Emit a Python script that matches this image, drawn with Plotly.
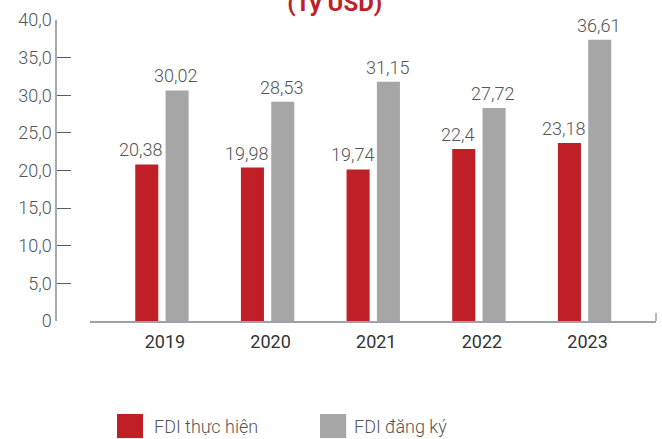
import plotly.graph_objects as go

years = ["2019", "2020", "2021", "2022", "2023"]
fdi_thuc_hien = [20.38, 19.98, 19.74, 22.4, 23.18]
fdi_dang_ky = [30.02, 28.53, 31.15, 27.72, 36.61]
labels_thuc_hien = ["20,38", "19,98", "19,74", "22,4", "23,18"]
labels_dang_ky = ["30,02", "28,53", "31,15", "27,72", "36,61"]
y_tick_vals = [0, 5, 10, 15, 20, 25, 30, 35, 40]
y_tick_text = ["0", "5,0", "10,0", "15,0", "20,0", "25,0", "30,0", "35,0", "40,0"]
series_names = ["FDI thực hiện", "FDI đăng ký"]
title_text = "(Tỷ USD)"

RED = "#c11f28"
GRAY = "#a6a6a6"
FONT = "Roboto"

fig = go.Figure()
fig.add_trace(go.Bar(x=years, y=fdi_thuc_hien, name=series_names[0],
                     marker=dict(color=RED, line=dict(width=0)), showlegend=False))
fig.add_trace(go.Bar(x=years, y=fdi_dang_ky, name=series_names[1],
                     marker=dict(color=GRAY, line=dict(width=0)), showlegend=False))
# invisible trace to keep the tick axis alive
fig.add_trace(go.Scatter(x=[years[0]], y=[0], yaxis="y2", mode="markers",
                         marker=dict(opacity=0), showlegend=False, hoverinfo="skip"))

annotations = []
for i, (v, t) in enumerate(zip(fdi_thuc_hien, labels_thuc_hien)):
    annotations.append(dict(x=i, y=v, xref="x", yref="y", text=t, showarrow=False,
                            xanchor="center", yanchor="bottom", xshift=-21, yshift=2,
                            font=dict(family=FONT, size=18, color="#555555", weight=300)))
for i, (v, t) in enumerate(zip(fdi_dang_ky, labels_dang_ky)):
    annotations.append(dict(x=i, y=v, xref="x", yref="y", text=t, showarrow=False,
                            xanchor="center", yanchor="bottom", xshift=14, yshift=2,
                            font=dict(family=FONT, size=18, color="#555555", weight=300)))

# legend
leg_font = dict(family=FONT, size=18, color="#555555", weight=300)
annotations.append(dict(x=0.160, y=-0.349, xref="paper", yref="paper", text=series_names[0],
                        showarrow=False, xanchor="left", yanchor="middle", font=leg_font))
annotations.append(dict(x=0.4936, y=-0.349, xref="paper", yref="paper", text=series_names[1],
                        showarrow=False, xanchor="left", yanchor="middle", font=leg_font))

shapes = [
    dict(type="rect", xref="paper", yref="paper", x0=0.1017, x1=0.145, y0=-0.389, y1=-0.309,
         fillcolor=RED, line=dict(width=0)),
    dict(type="rect", xref="paper", yref="paper", x0=0.440, x1=0.4836, y0=-0.389, y1=-0.309,
         fillcolor=GRAY, line=dict(width=0)),
    dict(type="line", xref="paper", yref="paper", x0=1, x1=1, y0=0, y1=0.027,
         line=dict(color="#a0a0a8", width=1.5)),
]

fig.update_layout(
    width=662, height=439,
    margin=dict(l=56, r=6, t=20, b=118),
    paper_bgcolor="white", plot_bgcolor="white",
    barmode="group", bargap=0.426, bargroupgap=0.24,
    title=dict(text="<b>" + title_text + "</b>", x=0.5056, xref="container", xanchor="center",
               y=1 - 11 / 439, yref="container", yanchor="bottom",
               font=dict(family=FONT, size=24, color=RED)),
    xaxis=dict(type="category", domain=[0.057, 1], range=[-0.679, 4.676], showline=True,
               linecolor="#a0a0a8", linewidth=1.5, ticks="", showgrid=False, zeroline=False,
               ticklabelstandoff=4, ticklabelshift=3,
               tickfont=dict(family=FONT, size=18, color="#333333")),
    yaxis=dict(range=[0, 39.19], visible=False, showgrid=False, zeroline=False),
    yaxis2=dict(overlaying="y", anchor="free", position=0, range=[0, 40],
                tickvals=y_tick_vals, ticktext=y_tick_text, showline=True,
                linecolor="#a8a8b0", linewidth=1.5, ticks="inside", ticklen=14,
                tickcolor="#5a5a68", tickwidth=1, showgrid=False, zeroline=False,
                tickfont=dict(family=FONT, size=18, color="#555555", weight=300)),
    annotations=annotations, shapes=shapes,
    showlegend=False,
)

fig.write_html("out.html", config={"displayModeBar": False},
               post_script="document.body.style.margin='0';document.body.style.padding='0';")
